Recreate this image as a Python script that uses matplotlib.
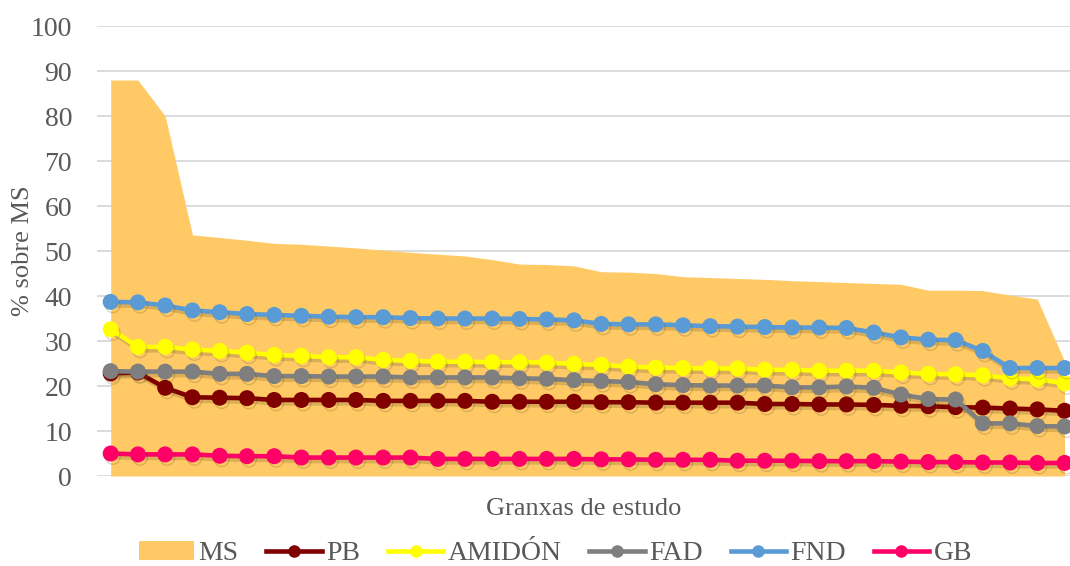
import numpy as np
import matplotlib

matplotlib.use("Agg")
import matplotlib.pyplot as plt
import matplotlib.patheffects as pe
from matplotlib.lines import Line2D
from matplotlib.patches import Patch

plt.rcParams["font.family"] = ["Liberation Serif", "DejaVu Serif"]

# values (36 farms, sorted by MS)
ms = [88.0, 88.0, 80.0, 53.6, 53.0, 52.4, 51.7, 51.5, 51.1, 50.7, 50.2, 49.7,
      49.3, 48.9, 48.1, 47.1, 47.0, 46.7, 45.4, 45.3, 45.0, 44.3, 44.1, 43.9,
      43.7, 43.4, 43.2, 43.0, 42.8, 42.6, 41.3, 41.3, 41.2, 40.2, 39.3, 25.5]
pb = [22.8, 23.0, 19.6, 17.5, 17.4, 17.3, 16.9, 16.9, 16.9, 16.9, 16.7, 16.7,
      16.7, 16.7, 16.5, 16.5, 16.5, 16.5, 16.4, 16.4, 16.3, 16.3, 16.3, 16.3,
      16.0, 16.0, 15.9, 15.9, 15.8, 15.6, 15.5, 15.3, 15.2, 15.0, 14.8, 14.5]
amidon = [32.6, 28.7, 28.7, 28.1, 27.8, 27.4, 26.9, 26.7, 26.4, 26.4, 25.8, 25.6,
          25.4, 25.4, 25.3, 25.3, 25.2, 24.9, 24.7, 24.3, 24.1, 24.0, 23.9, 23.9,
          23.6, 23.6, 23.4, 23.4, 23.4, 23.0, 22.7, 22.6, 22.4, 21.7, 21.5, 20.6]
fad = [23.3, 23.2, 23.2, 23.2, 22.7, 22.7, 22.2, 22.2, 22.1, 22.1, 22.1, 21.9,
       21.9, 21.9, 21.9, 21.7, 21.6, 21.3, 21.1, 20.9, 20.4, 20.2, 20.1, 20.1,
       20.1, 19.7, 19.7, 19.9, 19.6, 18.1, 17.1, 17.0, 11.7, 11.7, 11.1, 11.0]
fnd = [38.7, 38.6, 37.9, 36.8, 36.4, 36.0, 35.8, 35.6, 35.4, 35.3, 35.3, 35.1,
       35.0, 35.0, 35.0, 34.9, 34.8, 34.6, 33.8, 33.7, 33.7, 33.5, 33.3, 33.2,
       33.1, 33.0, 33.0, 32.9, 31.9, 30.8, 30.3, 30.2, 27.8, 24.0, 24.0, 24.0]
gb = [5.0, 4.8, 4.8, 4.8, 4.5, 4.4, 4.4, 4.1, 4.1, 4.1, 4.1, 4.1,
      3.8, 3.8, 3.8, 3.8, 3.8, 3.8, 3.7, 3.7, 3.6, 3.6, 3.6, 3.4,
      3.4, 3.4, 3.3, 3.3, 3.3, 3.2, 3.1, 3.1, 3.0, 3.0, 2.9, 2.9]

series = [("PB", pb, "#800000"),
          ("AMIDÓN", amidon, "#FFFF00"),
          ("FAD", fad, "#7F7F7F"),
          ("FND", fnd, "#5B9BD5"),
          ("GB", gb, "#FF0066")]
ms_color = "#FFCA66"
text_color = "#595959"

x = np.arange(len(ms))

fig = plt.figure(figsize=(10.7, 5.66), dpi=100)
ax = fig.add_axes([0.0907, 0.159, 0.9093, 0.795])

ax.fill_between(x, ms, 0, color=ms_color, linewidth=0, zorder=1)

# soft drop shadow under the lines, like the Excel original
shadow = [pe.SimpleLineShadow(offset=(1.5, -2.5), shadow_color="#5a4a20", alpha=0.22),
          pe.Normal()]
for i, (name, vals, color) in enumerate(series):
    ax.plot(x, vals, color=color, linewidth=3.3, marker="o", markersize=10.5,
            zorder=2 + i, path_effects=shadow)

ax.set_xlim(-0.5, 35.2)
ax.set_ylim(0, 100)
ax.set_yticks(np.arange(0, 101, 10))
ax.set_xticks([])
ax.grid(axis="y", color="#D9D9D9", linewidth=1.3)
ax.set_axisbelow(True)
for s in ax.spines.values():
    s.set_visible(False)
ax.tick_params(axis="y", length=0, pad=18, labelsize=20, labelcolor=text_color)

ax.set_ylabel("% sobre MS", fontsize=19, color=text_color)
ax.yaxis.set_label_coords(-0.065, 0.5)
ax.set_xlabel("Granxas de estudo", fontsize=19, color=text_color, labelpad=16)

handles = [Patch(facecolor=ms_color, edgecolor="none", label="MS")]
for name, vals, color in series:
    handles.append(Line2D([], [], color=color, linewidth=3.3, marker="o",
                          markersize=8, label=name))
leg = fig.legend(handles=handles, loc="center", bbox_to_anchor=(0.519, 0.022),
                 ncol=6, frameon=False, fontsize=20, handlelength=2.0,
                 handletextpad=0.15, columnspacing=1.0)
for t in leg.get_texts():
    t.set_color(text_color)

fig.savefig("out.png", dpi=100)
